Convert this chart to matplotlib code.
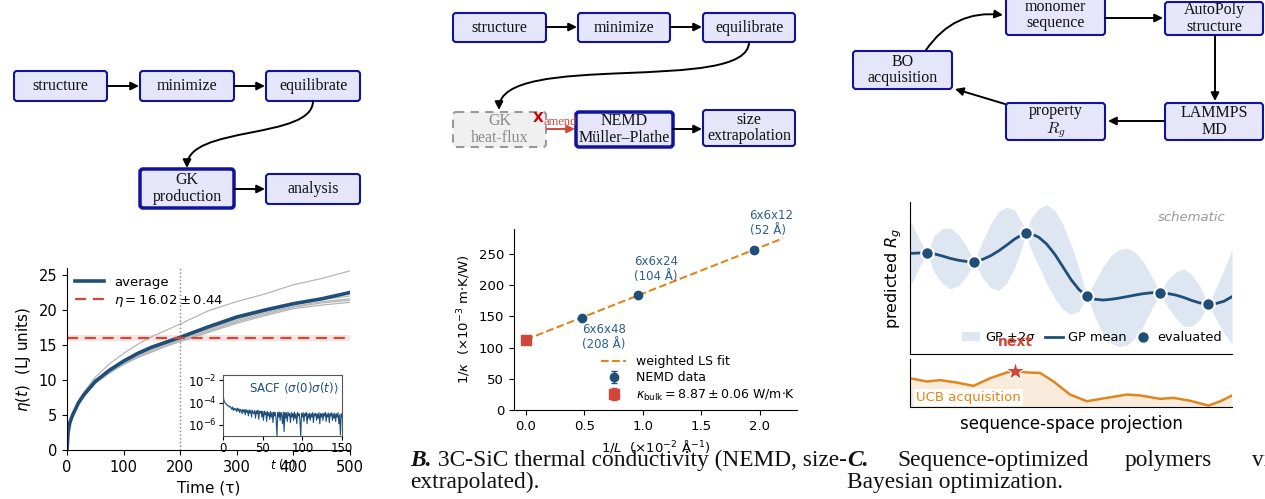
import numpy as np
import matplotlib.pyplot as plt
from matplotlib.patches import FancyBboxPatch, FancyArrowPatch
from matplotlib.path import Path

# --- Panel A data: GK viscosity running integrals ---
t_run = [0, 2, 5, 10, 20, 30, 50, 75, 100, 125, 150, 175, 200, 250, 300, 350, 400, 450, 500]
eta_run1 = [0, 2.7, 4.0, 5.2, 7.0, 8.3, 10.4, 12.3, 13.8, 15.1, 16.2, 17.1, 18.0, 19.9, 21.2, 22.3, 23.6, 24.5, 25.6]
eta_run2 = [0, 2.6, 3.9, 5.0, 6.6, 7.8, 9.7, 11.3, 12.6, 13.6, 14.5, 15.2, 15.9, 17.3, 18.7, 19.8, 20.8, 21.5, 22.0]
eta_run3 = [0, 2.5, 3.8, 4.9, 6.6, 7.7, 9.6, 11.1, 12.4, 13.4, 14.3, 15.1, 15.8, 17.1, 18.5, 19.6, 20.5, 21.2, 21.6]
eta_run4 = [0, 2.5, 3.8, 4.9, 6.5, 7.7, 9.5, 11.0, 12.3, 13.3, 14.1, 14.9, 15.6, 16.9, 18.3, 19.4, 20.4, 21.0, 21.4]
eta_run5 = [0, 2.6, 3.9, 5.0, 6.6, 7.8, 9.6, 11.0, 12.2, 13.2, 14.0, 14.8, 15.5, 16.8, 18.1, 19.2, 20.2, 20.7, 21.1]
eta_avg = [0, 2.6, 3.9, 5.0, 6.7, 7.9, 9.8, 11.4, 12.7, 13.8, 14.7, 15.4, 16.1, 17.6, 19.0, 20.0, 20.9, 21.6, 22.5]
eta_mean, eta_err = 16.02, 0.44
t_cut = 200

# SACF, log10 values read at t = 0..150
sacf_log10 = [
    -3.3, -3.75, -3.95, -4.05, -4.15, -4.2, -4.3, -4.28, -4.4, -4.35,
    -4.45, -4.6, -4.4, -4.7, -4.5, -4.65, -4.55, -4.8, -4.5, -4.75,
    -4.55, -4.9, -4.6, -4.7, -5.0, -4.6, -4.85, -4.65, -5.1, -4.6,
    -4.9, -4.7, -5.2, -4.65, -4.95, -4.7, -5.3, -4.7, -4.9, -5.0,
    -4.7, -5.4, -4.75, -5.0, -4.7, -5.5, -4.8, -4.95, -4.75, -5.3,
    -4.8, -5.6, -4.75, -5.1, -4.85, -5.7, -4.8, -5.2, -4.9, -5.5,
    -4.8, -5.3, -4.9, -5.8, -4.85, -5.2, -4.9, -5.5, -7.0, -4.9,
    -5.3, -4.85, -5.6, -4.9, -5.1, -5.9, -4.85, -6.6, -4.9, -5.4,
    -4.9, -5.7, -4.85, -5.2, -5.0, -5.8, -4.9, -5.3, -4.95, -5.6,
    -4.85, -5.4, -5.0, -5.9, -4.9, -5.2, -5.0, -5.6, -7.0, -4.95,
    -5.3, -4.9, -5.7, -5.0, -5.2, -4.9, -5.9, -5.0, -5.4, -4.95,
    -5.6, -5.0, -5.3, -4.9, -5.8, -5.0, -5.2, -4.95, -5.6, -5.0,
    -5.4, -4.9, -5.9, -5.0, -5.3, -4.95, -5.6, -5.0, -5.2, -4.9,
    -5.7, -5.0, -5.3, -4.95, -5.8, -5.0, -5.2, -4.9, -5.6, -5.0,
    -5.4, -4.95, -5.7, -5.0, -5.3, -4.9, -5.9, -5.1, -6.9, -5.0,
    -5.3]

# --- Panel B data: NEMD size extrapolation ---
inv_L = [0.48, 0.96, 1.95]
inv_kappa = [148.0, 184.0, 256.5]
inv_kappa_err = [2.0, 2.5, 3.5]
cell_labels = ['6x6x48\n(208 Å)', '6x6x24\n(104 Å)', '6x6x12\n(52 Å)']
fit_intercept, fit_slope = 112.7, 73.8
fit_xmax = 2.2
kappa_bulk, kappa_bulk_err = 8.87, 0.06

# --- Panel C data: schematic GP / UCB ---
gp_x = [0.0, 0.25, 0.52, 0.75, 1.0, 1.25, 1.5, 1.75, 2.0, 2.25, 2.5, 2.75, 3.0, 3.25, 3.5, 3.6,
        3.75, 4.0, 4.25, 4.5, 4.75, 5.0, 5.25, 5.49, 5.75, 6.0, 6.25, 6.5, 6.75, 7.0, 7.25, 7.5,
        7.77, 8.0, 8.25, 8.5, 8.75, 9.0, 9.27, 9.5, 9.75, 10.0]
gp_mean = [0.662, 0.664, 0.667, 0.659, 0.645, 0.629, 0.617, 0.609, 0.607, 0.622, 0.646, 0.678,
           0.716, 0.756, 0.787, 0.794, 0.792, 0.768, 0.722, 0.655, 0.573, 0.490, 0.423, 0.382,
           0.360, 0.355, 0.360, 0.368, 0.378, 0.388, 0.397, 0.403, 0.404, 0.398, 0.388, 0.372,
           0.352, 0.336, 0.327, 0.332, 0.347, 0.377]
gp_2sigma = [0.22, 0.11, 0.0, 0.12, 0.18, 0.20, 0.17, 0.10, 0.0, 0.12, 0.21, 0.26, 0.25, 0.19,
             0.07, 0.0, 0.10, 0.19, 0.26, 0.29, 0.28, 0.23, 0.14, 0.0, 0.12, 0.22, 0.29, 0.32,
             0.32, 0.28, 0.21, 0.11, 0.0, 0.09, 0.15, 0.19, 0.17, 0.11, 0.0, 0.10, 0.21, 0.31]
eval_x = [0.52, 2.0, 3.6, 5.49, 7.77, 9.27]
eval_y = [0.667, 0.607, 0.794, 0.382, 0.404, 0.327]
ucb_x = [0.0, 0.52, 0.93, 1.45, 1.97, 2.49, 3.01, 3.26, 3.63, 4.04, 4.46, 4.97, 5.49,
         6.11, 6.74, 7.15, 7.77, 8.19, 8.70, 9.27, 9.64, 10.0]
ucb_y = [0.60, 0.53, 0.56, 0.51, 0.44, 0.60, 0.72, 0.75, 0.72, 0.71, 0.53, 0.26, 0.12,
         0.19, 0.26, 0.24, 0.17, 0.19, 0.13, 0.03, 0.12, 0.24]
next_x, next_y = 3.26, 0.75

BLUE = '#1f4e79'
RED = '#d1473a'
ORANGE = '#e0861c'
BOX_FC = '#e6e6fa'
BOX_EC = '#12129a'
SERIF = 'Liberation Serif'

W, H = 1265, 499
fig = plt.figure(figsize=(W / 100, H / 100), dpi=100)


def rect(l, t, r, b):
    return [l / W, 1 - b / H, (r - l) / W, (b - t) / H]


# --- flowcharts drawn in pixel space ---
bg = fig.add_axes([0, 0, 1, 1], zorder=0)
bg.set_xlim(0, W)
bg.set_ylim(H, 0)
bg.axis('off')


def box(l, t, r, b, text, lw=1.5, ghost=False):
    p = FancyBboxPatch((l, t), r - l, b - t, boxstyle='round,pad=0,rounding_size=3',
                       fc='#f0f0f0' if ghost else BOX_FC, ec='#999999' if ghost else BOX_EC,
                       lw=lw, ls=(0, (4, 3)) if ghost else '-')
    bg.add_patch(p)
    bg.text((l + r) / 2, (t + b) / 2, text, ha='center', va='center', family=SERIF,
            fontsize=11.5, color='#8a8a8a' if ghost else '#111111', linespacing=1.05,
            math_fontfamily='cm')


def arrow(p0, p1, color='black', **kw):
    bg.add_patch(FancyArrowPatch(p0, p1, arrowstyle='-|>', mutation_scale=12, lw=1.4,
                                 color=color, shrinkA=0, shrinkB=0, **kw))


def curve(p0, c1, c2, p1):
    path = Path([p0, c1, c2, p1], [Path.MOVETO, Path.CURVE4, Path.CURVE4, Path.CURVE4])
    bg.add_patch(FancyArrowPatch(path=path, arrowstyle='-|>', mutation_scale=12, lw=1.4,
                                 color='black'))


# A
box(14, 71, 107, 101, 'structure')
box(140, 71, 234, 101, 'minimize')
box(266, 71, 360, 101, 'equilibrate')
box(140, 169, 234, 208, 'GK\nproduction', lw=2.5)
box(266, 174, 360, 204, 'analysis')
arrow((107, 86), (139, 86))
arrow((234, 86), (265, 86))
arrow((234, 189), (265, 189))
curve((313, 101), (313, 140), (187, 125), (187, 168))

# B
box(453, 13, 546, 42, 'structure')
box(578, 13, 670, 42, 'minimize')
box(703, 13, 795, 42, 'equilibrate')
box(453, 112, 546, 147, 'GK\nheat-flux', ghost=True)
box(576, 112, 673, 147, 'NEMD\nMüller–Plathe', lw=2.5)
box(703, 110, 795, 146, 'size\nextrapolation')
arrow((546, 27), (577, 27))
arrow((670, 27), (702, 27))
arrow((673, 129), (702, 129))
arrow((547, 129), (575, 129), color=RED)
curve((749, 42), (749, 95), (499, 50), (499, 110))
bg.text(543, 122, 'amend', family=SERIF, fontsize=9, color=RED, ha='left', va='center')
bg.text(538, 118, 'X', fontsize=10, fontweight='bold', color='#cc0000', ha='center', va='center')

# C
box(1006, -5, 1105, 35, 'monomer\nsequence')
box(1165, 2, 1263, 35, 'AutoPoly\nstructure')
box(853, 51, 952, 89, 'BO\nacquisition')
box(1006, 103, 1105, 140, 'property\n$R_g$')
box(1165, 103, 1263, 140, 'LAMMPS\nMD')
arrow((1105, 18), (1163, 18))
arrow((1215, 36), (1215, 101))
arrow((1164, 121), (1108, 121))
arrow((1005, 104), (955, 89))
arrow((926, 50), (1003, 15), connectionstyle='arc3,rad=-0.3')

# --- Panel A: Green-Kubo viscosity ---
axA = fig.add_axes(rect(67, 268, 350, 450))
for run in [eta_run1, eta_run2, eta_run3, eta_run4, eta_run5]:
    axA.plot(t_run, run, color='#b5b5b5', lw=0.9)
axA.plot(t_run, eta_avg, color=BLUE, lw=2.6, label='average')
axA.axhspan(eta_mean - eta_err, eta_mean + eta_err, color=RED, alpha=0.15, lw=0)
axA.axhline(eta_mean, color=RED, ls='--', lw=1.6, dashes=(5, 3),
            label=rf'$\eta = {eta_mean:.2f} \pm {eta_err:.2f}$')
axA.axvline(t_cut, color='gray', ls=':', lw=1)
axA.set_xlim(0, 500)
axA.set_ylim(0, 26)
axA.set_xticks(range(0, 501, 100))
axA.set_yticks(range(0, 26, 5))
axA.tick_params(labelsize=10.5)
axA.set_xlabel('Time (τ)', fontsize=11)
axA.set_ylabel(r'$\eta(t)$  (LJ units)', fontsize=11)
axA.spines[['top', 'right']].set_visible(False)
axA.legend(loc='upper left', frameon=False, fontsize=9.5, handlelength=2.2,
           borderaxespad=0.2, labelspacing=0.3)

axI = fig.add_axes(rect(223, 375, 342, 436))
axI.semilogy(range(len(sacf_log10)), 10 ** np.array(sacf_log10), color=BLUE, lw=0.8)
axI.set_xlim(0, 150)
axI.set_ylim(1e-7, 3e-2)
axI.set_yticks([1e-2, 1e-4, 1e-6])
axI.minorticks_off()
axI.set_xticks([0, 50, 100, 150])
axI.tick_params(labelsize=8.5, length=3, pad=1.5)
axI.set_xlabel(r'$t$ ($\tau$)', fontsize=8.5, labelpad=1)
axI.text(0.97, 0.9, r'SACF $\langle\sigma(0)\sigma(t)\rangle$', transform=axI.transAxes,
         ha='right', va='top', color=BLUE, fontsize=8.5)
for s in axI.spines.values():
    s.set_color('#555555')

# --- Panel B: size extrapolation ---
axB = fig.add_axes(rect(514, 229, 797, 410))
fit_x = np.array([0.0, fit_xmax])
axB.plot(fit_x, fit_intercept + fit_slope * fit_x, ls='--', color=ORANGE, lw=1.5,
         label='weighted LS fit')
axB.errorbar(inv_L, inv_kappa, yerr=inv_kappa_err, fmt='o', color=BLUE, ms=6,
             capsize=2, elinewidth=1, label='NEMD data')
inv_bulk = 1000.0 / kappa_bulk
inv_bulk_err = 1000.0 * kappa_bulk_err / kappa_bulk ** 2
axB.errorbar([0.0], [inv_bulk], yerr=[inv_bulk_err], fmt='s', color=RED, ms=7,
             capsize=2, elinewidth=1,
             label=rf'$\kappa_{{\rm bulk}} = {kappa_bulk:.2f} \pm {kappa_bulk_err:.2f}$ W/m$\cdot$K')
for x, y, lab in zip(inv_L, inv_kappa, cell_labels):
    below = x < 0.7
    axB.annotate(lab, (x, y), xytext=(0, -4) if below else (-3, 9), textcoords='offset points',
                 ha='left', va='top' if below else 'bottom', color='#2d5f8f', fontsize=8.5,
                 linespacing=1.2)
axB.set_xlim(-0.1, 2.32)
axB.set_ylim(0, 290)
axB.set_xticks([0, 0.5, 1.0, 1.5, 2.0])
axB.set_yticks(range(0, 251, 50))
axB.tick_params(labelsize=9.5)
axB.set_xlabel(r'$1/L$  ($\times 10^{-2}$ Å$^{-1}$)', fontsize=9.5)
axB.set_ylabel(r'$1/\kappa$  ($\times 10^{-3}$ m$\cdot$K/W)', fontsize=9.5)
axB.spines[['top', 'right']].set_visible(False)
axB.legend(loc='upper left', bbox_to_anchor=(0.29, 0.33), frameon=False, fontsize=9,
           borderaxespad=0, labelspacing=0.25, handlelength=2)

# --- Panel C: BO schematic ---
axC = fig.add_axes(rect(910, 202, 1232, 354))
gm = np.array(gp_mean)
gs = np.array(gp_2sigma)
axC.fill_between(gp_x, gm - gs, gm + gs, color='#dde6f1', lw=0, label=r'GP $\pm2\sigma$')
axC.plot(gp_x, gm, color=BLUE, lw=2, label='GP mean')
axC.plot(eval_x, eval_y, 'o', color=BLUE, ms=9, mec='white', mew=1.5, label='evaluated')
axC.set_xlim(0, 10)
axC.set_ylim(0, 1)
axC.set_xticks([])
axC.set_yticks([])
axC.spines[['top', 'right']].set_visible(False)
axC.set_ylabel(r'predicted $R_g$', fontsize=11.5)
axC.text(0.98, 0.895, 'schematic', transform=axC.transAxes, ha='right', va='center',
         style='italic', color='#999999', fontsize=9.5)
axC.legend(loc='lower right', bbox_to_anchor=(0.985, 0.03), ncol=3, frameon=False,
           fontsize=9.3, borderaxespad=0, handlelength=1.4, columnspacing=0.6,
           handletextpad=0.4)

axU = fig.add_axes(rect(910, 359, 1232, 407))
axU.fill_between(ucb_x, 0, ucb_y, color=ORANGE, alpha=0.15, lw=0)
axU.plot(ucb_x, ucb_y, color=ORANGE, lw=1.8)
axU.plot([next_x], [next_y], marker='*', color=RED, ms=15, mec='white', mew=0.8)
axU.annotate('next', (next_x, next_y), xytext=(0, 21), textcoords='offset points',
             ha='center', va='center', color=RED, fontweight='bold', fontsize=10)
axU.text(0.02, 0.2, 'UCB acquisition', transform=axU.transAxes, ha='left', va='center',
         color=ORANGE, fontsize=9.5,
         bbox=dict(fc='white', ec='none', alpha=0.85, pad=1.5))
axU.set_xlim(0, 10)
axU.set_ylim(0, 1)
axU.set_xticks([])
axU.set_yticks([])
axU.spines[['top', 'right']].set_visible(False)
axU.set_xlabel('sequence-space projection', fontsize=12, labelpad=6)

# --- captions ---
cap = dict(family=SERIF, fontsize=16.8, color='#111111')
tB = fig.text(410 / W, 1 - 466 / H, 'B.', fontweight='bold', style='italic', va='baseline', **cap)
bg.annotate(' 3C-SiC thermal conductivity (NEMD, size-', xy=(1, 0), xycoords=tB,
            ha='left', va='bottom', annotation_clip=False, **cap)
fig.text(410 / W, 1 - 488 / H, 'extrapolated).', va='baseline', **cap)
fig.text(847 / W, 1 - 466 / H, 'C.', fontweight='bold', style='italic', va='baseline', **cap)
for word, xpx in [('Sequence-optimized', 897), ('polymers', 1125), ('via', 1252)]:
    fig.text(xpx / W, 1 - 466 / H, word, va='baseline', **cap)
fig.text(847 / W, 1 - 488 / H, 'Bayesian optimization.', va='baseline', **cap)

fig.savefig('out.png', dpi=100)
